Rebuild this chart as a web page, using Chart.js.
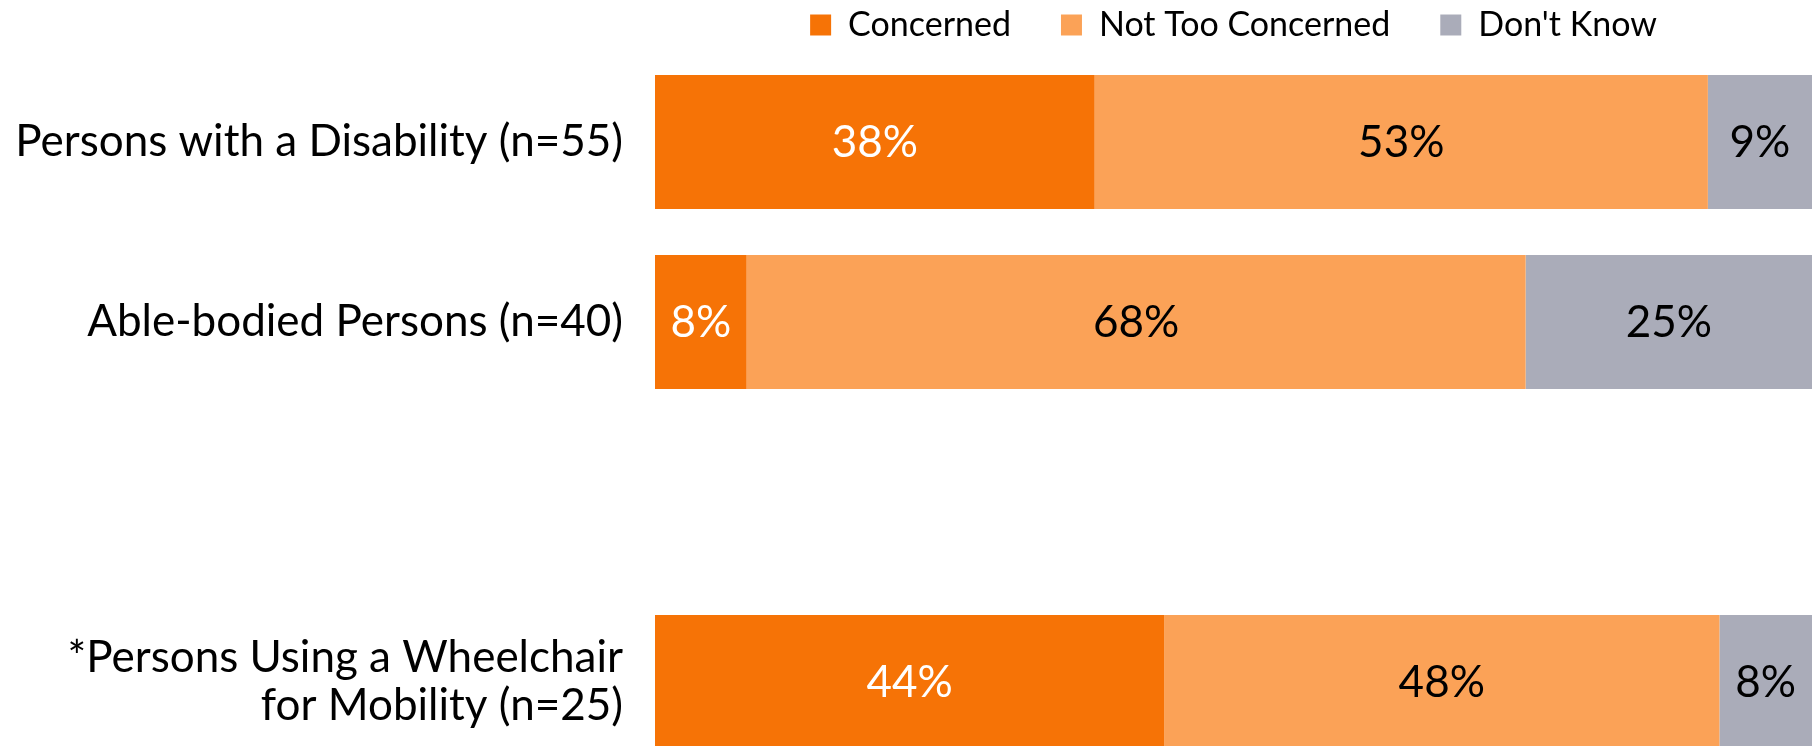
<!DOCTYPE html>
<html>
<head>
<meta charset="utf-8">
<script src="https://cdn.jsdelivr.net/npm/chart.js@4.4.0/dist/chart.umd.min.js"></script>
<style>
  html, body { margin: 0; padding: 0; background: #fff; overflow: hidden; }
  #wrap { width: 1818px; height: 772px; position: relative; }
</style>
</head>
<body>
<div id="wrap"><canvas id="chart"></canvas></div>
<script>
// categories (third slot is an empty gap in the original)
const groups = [
  "Persons with a Disability (n=55)",
  "Able-bodied Persons (n=40)",
  "",
  ["*Persons Using a Wheelchair", "for Mobility (n=25)"]
];
const seriesNames = ["Concerned", "Not Too Concerned", "Don't Know"];
const concerned = [38, 8, null, 44];
const notConcerned = [53, 68, null, 48];
const dontKnow = [9, 25, null, 8];

const colors = ["#F67306", "#FBA257", "#AAACB9"];
const labelColors = ["#ffffff", "#000000", "#000000"];
const FONT = "Lato, 'Noto Sans', sans-serif";

const raw = [concerned, notConcerned, dontKnow];
// 100% stacked: each row is scaled to its own total
const totals = groups.map((g, i) => raw.reduce((s, arr) => s + (arr[i] || 0), 0));
const share = arr => arr.map((v, i) => v == null ? null : v / totals[i] * 100);

// legend centred over the plot area instead of the whole canvas
const legendOverArea = {
  id: "legendOverArea",
  afterLayout(chart) {
    chart.legend.left = chart.chartArea.left;
    chart.legend.right = chart.chartArea.right;
  }
};

// percentage labels in the middle of each segment
const segmentLabels = {
  id: "segmentLabels",
  afterDatasetsDraw(chart) {
    const ctx = chart.ctx;
    ctx.save();
    ctx.font = "44px " + FONT;
    ctx.textAlign = "center";
    ctx.textBaseline = "middle";
    chart.data.datasets.forEach((ds, di) => {
      chart.getDatasetMeta(di).data.forEach((bar, i) => {
        const v = raw[di][i];
        if (v == null) return;
        ctx.fillStyle = labelColors[di];
        ctx.fillText(v + "%", (bar.x + bar.base) / 2, bar.y + 1);
      });
    });
    ctx.restore();
  }
};

new Chart(document.getElementById("chart"), {
  type: "bar",
  data: {
    labels: groups,
    datasets: raw.map((arr, k) => ({
      label: seriesNames[k],
      data: share(arr),
      backgroundColor: colors[k],
      borderWidth: 0,
      barPercentage: 0.745,
      categoryPercentage: 1
    }))
  },
  options: {
    indexAxis: "y",
    responsive: true,
    maintainAspectRatio: false,
    animation: false,
    layout: { padding: { top: -42, left: 0, right: 6, bottom: 0 } },
    scales: {
      x: { stacked: true, min: 0, max: 100, display: false },
      y: {
        stacked: true,
        grid: { display: false, drawTicks: false },
        border: { display: false },
        ticks: {
          color: "#000",
          padding: 32,
          font: { family: FONT, size: 44, lineHeight: 1.08 }
        },
        afterFit(scale) {
          scale.width = 655;
          scale.paddingTop = 0;
          scale.paddingBottom = 0;
        }
      }
    },
    plugins: {
      legend: {
        position: "top",
        labels: {
          color: "#000",
          boxWidth: 21,
          boxHeight: 21,
          padding: 50,
          font: { family: FONT, size: 34 }
        }
      },
      tooltip: { enabled: false }
    }
  },
  plugins: [legendOverArea, segmentLabels]
});
</script>
</body>
</html>
